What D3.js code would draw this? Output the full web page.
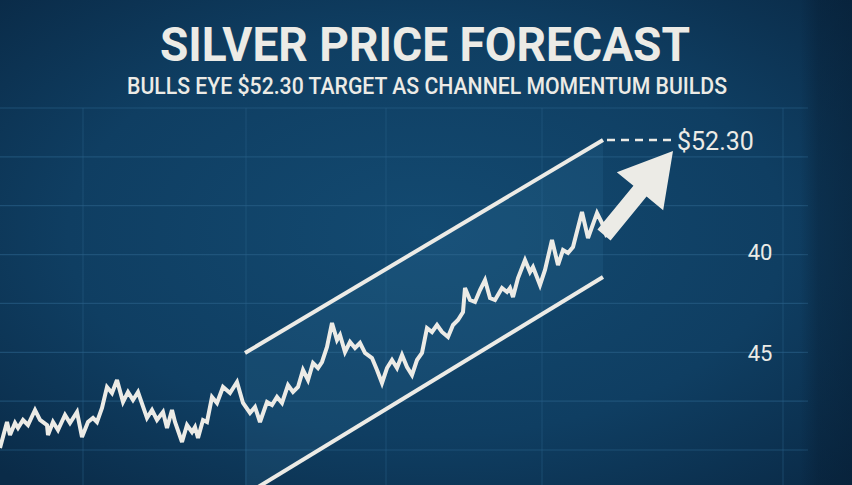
<!DOCTYPE html>
<html>
<head>
<meta charset="utf-8">
<script src="https://cdn.jsdelivr.net/npm/d3@7"></script>
<style>
  html, body { margin: 0; padding: 0; background: #0d3656; }
  svg { display: block; }
</style>
</head>
<body>
<script>
// silver price path: [trading day, price in $]
var silver = [
  [0,21.5],[1.4,24.1],[2,22.8],[3,24.0],[3.6,23.5],[4.6,24.3],[5.6,23.8],[7,25.3],[8,24.3],[9.4,23.8],
  [9.6,22.8],[10.6,24.1],[11.6,23.3],[13,24.8],[14,24.0],[15.4,25.1],[16.4,22.6],[17.6,24.1],[18.6,24.5],[19.4,24.1],
  [20.4,25.5],[21.4,27.6],[22.4,27.0],[23.4,28.3],[24.6,26.1],[25.6,27.1],[26.6,26.3],[27.6,27.1],[29.4,24.5],[30.4,25.3],
  [31.4,24.3],[32.6,25.1],[33.4,23.5],[34.4,25.3],[35,24.1],[36.4,22.1],[37.4,23.8],[38.4,23.1],[39,23.6],[39.6,22.5],
  [40.6,24.3],[41.4,24.1],[42.4,26.6],[43.4,26.0],[44.6,27.6],[46,27.0],[47.4,28.1],[48.6,26.0],[50,25.0],[51,25.6],
  [52,24.1],[53.4,26.1],[54.4,25.8],[55.4,26.6],[56.4,26.0],[57.6,27.8],[58.6,27.1],[59.6,27.6],[60.6,29.3],[61.6,28.3],
  [62.6,30.0],[63.6,29.5],[64.4,30.1],[65.4,31.6],[66.4,34.0],[67.4,32.3],[68,32.8],[69,31.1],[70,32.1],[71,31.5],
  [72,32.0],[73,31.0],[74.4,30.5],[75.4,29.3],[76.4,28.0],[77.4,29.5],[78.4,30.3],[79.4,29.5],[80.4,30.8],[81.4,29.6],
  [82.4,28.8],[83.4,30.3],[84.4,31.0],[85.4,33.5],[86.4,33.1],[87.4,33.8],[88.4,33.1],[89.6,32.6],[90.6,33.8],[91.6,34.3],
  [92.6,35.1],[93,37.5],[94,36.3],[95,36.1],[96,37.3],[97,38.3],[98,36.5],[99,36.3],[100.4,37.5],[101.4,37.1],
  [102,37.5],[102.6,36.6],[103.6,38.5],[105,40.3],[106,39.1],[106.6,39.6],[108,37.8],[109,39.3],[110.4,42.3],[111.6,39.8],
  [112.6,41.3],[113.6,41.0],[114.6,41.6],[116.4,45.1],[117.6,42.5],[119.4,45.0],[120.4,44.0],[121.4,42.6]
];

var target = 52.30;
var targetLabel = "$52.30";
var arrowTip = [134.6, 51.2];

var channelDays = [49, 120.6];
var upperChannel = [31.0, 52.3];
var lowerChannel = [16.8, 38.6];

var gridDays = [16.6, 49.2, 77.2, 108.4, 156.6];
var gridRows = [0, 1, 2, 3, 4, 5, 6, 7];
var axisLabels = [{row: 3, text: "40"}, {row: 5.05, text: "45"}];

var title = "SILVER PRICE FORECAST";
var subtitle = "BULLS EYE $52.30 TARGET AS CHANNEL MOMENTUM BUILDS";

var width = 852, height = 485;
var ink = "#ecebe6";

var x = d3.scaleLinear().domain([0, 170]).range([0, 850]);
var y = d3.scaleLinear().domain([52.3, 20.3]).range([140, 460]);
var row = d3.scaleLinear().domain([0, 7]).range([108, 450]);

var svg = d3.select("body").append("svg")
  .attr("width", width)
  .attr("height", height);

var defs = svg.append("defs");
var bg = defs.append("radialGradient").attr("id", "bg")
  .attr("cx", "50%").attr("cy", "48%").attr("r", "70%");
bg.append("stop").attr("offset", "0%").attr("stop-color", "#134a71");
bg.append("stop").attr("offset", "60%").attr("stop-color", "#0f3e62");
bg.append("stop").attr("offset", "100%").attr("stop-color", "#0a2b48");

var edge = defs.append("linearGradient").attr("id", "edge")
  .attr("x1", "0").attr("x2", "1").attr("y1", "0").attr("y2", "0");
edge.append("stop").attr("offset", "0%").attr("stop-color", "#061a2e").attr("stop-opacity", 0);
edge.append("stop").attr("offset", "35%").attr("stop-color", "#061a2e").attr("stop-opacity", 0.35);
edge.append("stop").attr("offset", "100%").attr("stop-color", "#061a2e").attr("stop-opacity", 0.45);

svg.append("rect").attr("width", width).attr("height", height).attr("fill", "url(#bg)");

// grid
svg.append("g").selectAll("line").data(gridRows).enter().append("line")
  .attr("x1", 0).attr("x2", 808)
  .attr("y1", d => row(d)).attr("y2", d => row(d))
  .attr("stroke", "#2a6088").attr("stroke-opacity", 0.6).attr("stroke-width", 1.2);

svg.append("g").selectAll("line").data(gridDays).enter().append("line")
  .attr("x1", d => x(d)).attr("x2", d => x(d))
  .attr("y1", row(0)).attr("y2", height)
  .attr("stroke", "#2a6088").attr("stroke-opacity", 0.5).attr("stroke-width", 1);

svg.append("rect").attr("x", 800).attr("width", 52).attr("height", height).attr("fill", "url(#edge)");

// channel shading
var shade = [
  [x(channelDays[0]), y(upperChannel[0])],
  [x(channelDays[1]), y(upperChannel[1])],
  [x(channelDays[1]), y(lowerChannel[1])],
  [x(channelDays[0]), y(lowerChannel[0])]
];
svg.append("path")
  .attr("d", "M" + shade.join("L") + "Z")
  .attr("fill", "#3d87b0").attr("fill-opacity", 0.14);

// channel lines
[upperChannel, lowerChannel].forEach(function(c) {
  svg.append("line")
    .attr("x1", x(channelDays[0])).attr("y1", y(c[0]))
    .attr("x2", x(channelDays[1])).attr("y2", y(c[1]))
    .attr("stroke", ink).attr("stroke-width", 4);
});

// target dashed line + label
svg.append("line")
  .attr("x1", x(channelDays[1]) + 4).attr("x2", x(arrowTip[0]))
  .attr("y1", y(target)).attr("y2", y(target))
  .attr("stroke", ink).attr("stroke-width", 2.5)
  .attr("stroke-dasharray", "8,6");

svg.append("text")
  .attr("x", x(arrowTip[0]) + 4).attr("y", y(target) + 3)
  .attr("font-family", "Roboto, 'Liberation Sans', sans-serif")
  .attr("font-size", 25).attr("fill", ink)
  .attr("dominant-baseline", "middle")
  .text(targetLabel);

// price line
svg.append("path")
  .datum(silver)
  .attr("fill", "none")
  .attr("stroke", ink)
  .attr("stroke-width", 4)
  .attr("stroke-linejoin", "miter")
  .attr("stroke-miterlimit", 3)
  .attr("d", d3.line().x(d => x(d[0])).y(d => y(d[1])));

// forecast arrow
var last = silver[silver.length - 1];
var sx = x(last[0]) - 3, sy = y(last[1]) - 2;
var tx = x(arrowTip[0]), ty = y(arrowTip[1]);
var dx = tx - sx, dy = ty - sy, len = Math.sqrt(dx * dx + dy * dy);
var ux = dx / len, uy = dy / len, nx = -uy, ny = ux;
var headLen = 52, headHalf = 30, shaftHalf = 8.5;
var bx = tx - ux * headLen, by = ty - uy * headLen;
var arrow = [
  [sx + nx * shaftHalf, sy + ny * shaftHalf],
  [bx + nx * shaftHalf, by + ny * shaftHalf],
  [bx + nx * headHalf, by + ny * headHalf],
  [tx, ty],
  [bx - nx * headHalf, by - ny * headHalf],
  [bx - nx * shaftHalf, by - ny * shaftHalf],
  [sx - nx * shaftHalf, sy - ny * shaftHalf]
];
svg.append("path")
  .attr("d", "M" + arrow.join("L") + "Z")
  .attr("fill", ink);

// right axis labels
svg.append("g").selectAll("text").data(axisLabels).enter().append("text")
  .attr("x", 760).attr("y", d => row(d.row))
  .attr("text-anchor", "middle")
  .attr("dominant-baseline", "middle")
  .attr("font-family", "Roboto, 'Liberation Sans', sans-serif")
  .attr("font-size", 22).attr("fill", ink)
  .text(d => d.text);

// titles
svg.append("text")
  .attr("x", 160).attr("y", 61)
  .attr("font-family", "Roboto, 'Liberation Sans', sans-serif")
  .attr("font-weight", 700).attr("font-size", 49)
  .attr("textLength", 530).attr("lengthAdjust", "spacingAndGlyphs")
  .attr("fill", ink)
  .text(title);

svg.append("text")
  .attr("x", 127).attr("y", 94)
  .attr("font-family", "Roboto, 'Liberation Sans', sans-serif")
  .attr("font-weight", 500).attr("font-size", 23)
  .attr("textLength", 600).attr("lengthAdjust", "spacingAndGlyphs")
  .attr("fill", ink)
  .text(subtitle);
</script>
</body>
</html>
